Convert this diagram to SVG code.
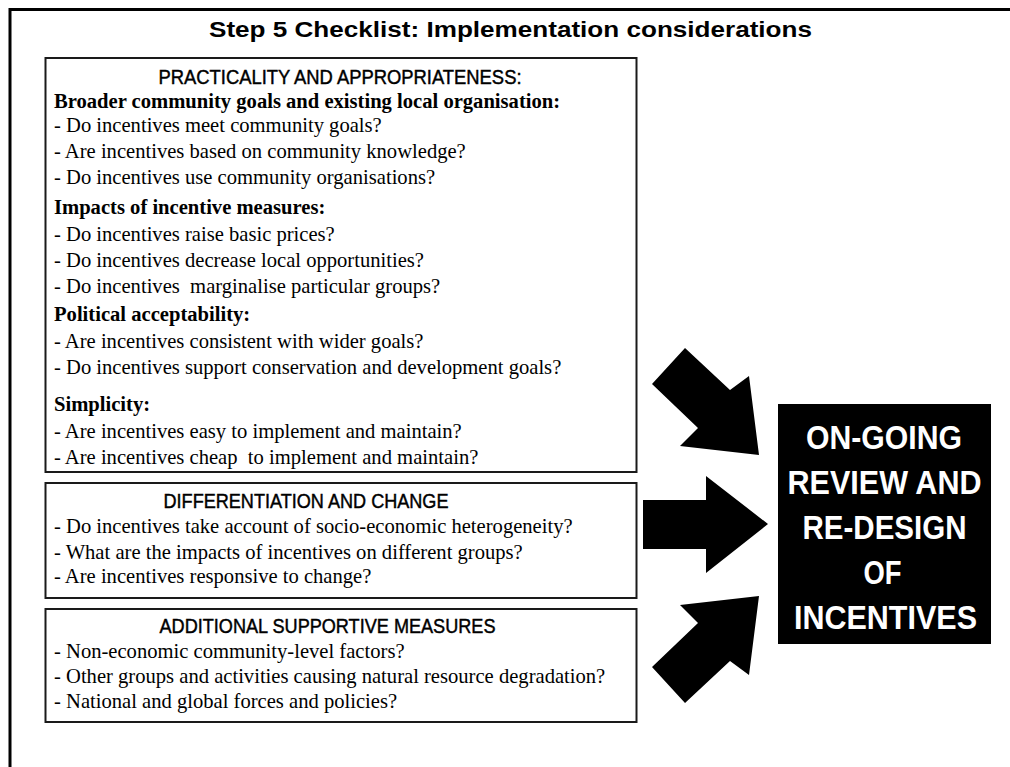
<svg xmlns="http://www.w3.org/2000/svg" width="1010" height="767" viewBox="0 0 1010 767">
<style>
.frame{fill:none;stroke:#000;stroke-width:3}
.box{fill:#fff;stroke:#1a1a1a;stroke-width:2}
.hd{font-family:"Liberation Sans",sans-serif;font-size:20.5px;fill:#000;stroke:#000;stroke-width:0.45px}
.t{font-family:"Liberation Serif",serif;font-size:20.6px;fill:#000}
.b{font-weight:bold}
.title{font-family:"Liberation Sans",sans-serif;font-weight:bold;font-size:22.4px}
.arrow{fill:#000}
.big{font-family:"Liberation Sans",sans-serif;font-weight:bold;font-size:32.5px;fill:#fff}
</style>
<rect width="1010" height="767" fill="#fff"/>
<path class="frame" d="M10,767 V9.5 H1010"/>
<text class="title" x="209" y="37" textLength="603" lengthAdjust="spacingAndGlyphs">Step 5 Checklist: Implementation considerations</text>

<g id="box-practicality">
<rect class="box" x="45.5" y="58" width="591" height="414"/>
<text class="hd" x="158.5" y="83.5" textLength="363" lengthAdjust="spacingAndGlyphs">PRACTICALITY AND APPROPRIATENESS:</text>
<text class="t b" x="54" y="108">Broader community goals and existing local organisation:</text>
<text class="t" x="54" y="132">- Do incentives meet community goals?</text>
<text class="t" x="54" y="158">- Are incentives based on community knowledge?</text>
<text class="t" x="54" y="184">- Do incentives use community organisations?</text>
<text class="t b" x="54" y="214">Impacts of incentive measures:</text>
<text class="t" x="54" y="241">- Do incentives raise basic prices?</text>
<text class="t" x="54" y="267">- Do incentives decrease local opportunities?</text>
<text class="t" x="54" y="293" xml:space="preserve">- Do incentives  marginalise particular groups?</text>
<text class="t b" x="54" y="321">Political acceptability:</text>
<text class="t" x="54" y="348">- Are incentives consistent with wider goals?</text>
<text class="t" x="54" y="374">- Do incentives support conservation and development goals?</text>
<text class="t b" x="54" y="411">Simplicity:</text>
<text class="t" x="54" y="438">- Are incentives easy to implement and maintain?</text>
<text class="t" x="54" y="464" xml:space="preserve">- Are incentives cheap  to implement and maintain?</text>
</g>

<g id="box-differentiation">
<rect class="box" x="45.5" y="483" width="591" height="115"/>
<text class="hd" x="163.5" y="508" textLength="285" lengthAdjust="spacingAndGlyphs">DIFFERENTIATION AND CHANGE</text>
<text class="t" x="54" y="533">- Do incentives take account of socio-economic heterogeneity?</text>
<text class="t" x="54" y="558.5">- What are the impacts of incentives on different groups?</text>
<text class="t" x="54" y="583">- Are incentives responsive to change?</text>
</g>

<g id="box-additional">
<rect class="box" x="45.5" y="609" width="591" height="113"/>
<text class="hd" x="159.5" y="633" textLength="336" lengthAdjust="spacingAndGlyphs">ADDITIONAL SUPPORTIVE MEASURES</text>
<text class="t" x="54" y="658">- Non-economic community-level factors?</text>
<text class="t" x="54" y="683">- Other groups and activities causing natural resource degradation?</text>
<text class="t" x="54" y="708">- National and global forces and policies?</text>
</g>

<g id="box-review">
<rect x="778" y="404" width="213" height="240" fill="#000"/>
<text class="big" x="806" y="448.5" textLength="156" lengthAdjust="spacingAndGlyphs">ON-GOING</text>
<text class="big" x="787.5" y="493.5" textLength="194" lengthAdjust="spacingAndGlyphs">REVIEW AND</text>
<text class="big" x="802.5" y="538.5" textLength="164" lengthAdjust="spacingAndGlyphs">RE-DESIGN</text>
<text class="big" x="863.5" y="583.5" textLength="38" lengthAdjust="spacingAndGlyphs">OF</text>
<text class="big" x="794" y="628.5" textLength="183" lengthAdjust="spacingAndGlyphs">INCENTIVES</text>
</g>

<g id="connectors">
<polygon class="arrow" points="685,348 730,390 749,376 759,455 680,446 698,428 652,384"/>
<polygon class="arrow" points="643,500 706,500 706,476 768,524 706,573 706,549 643,549"/>
<polygon class="arrow" points="685,703 730,661 749,675 759,596 680,605 698,623 652,667"/>
</g>
</svg>
